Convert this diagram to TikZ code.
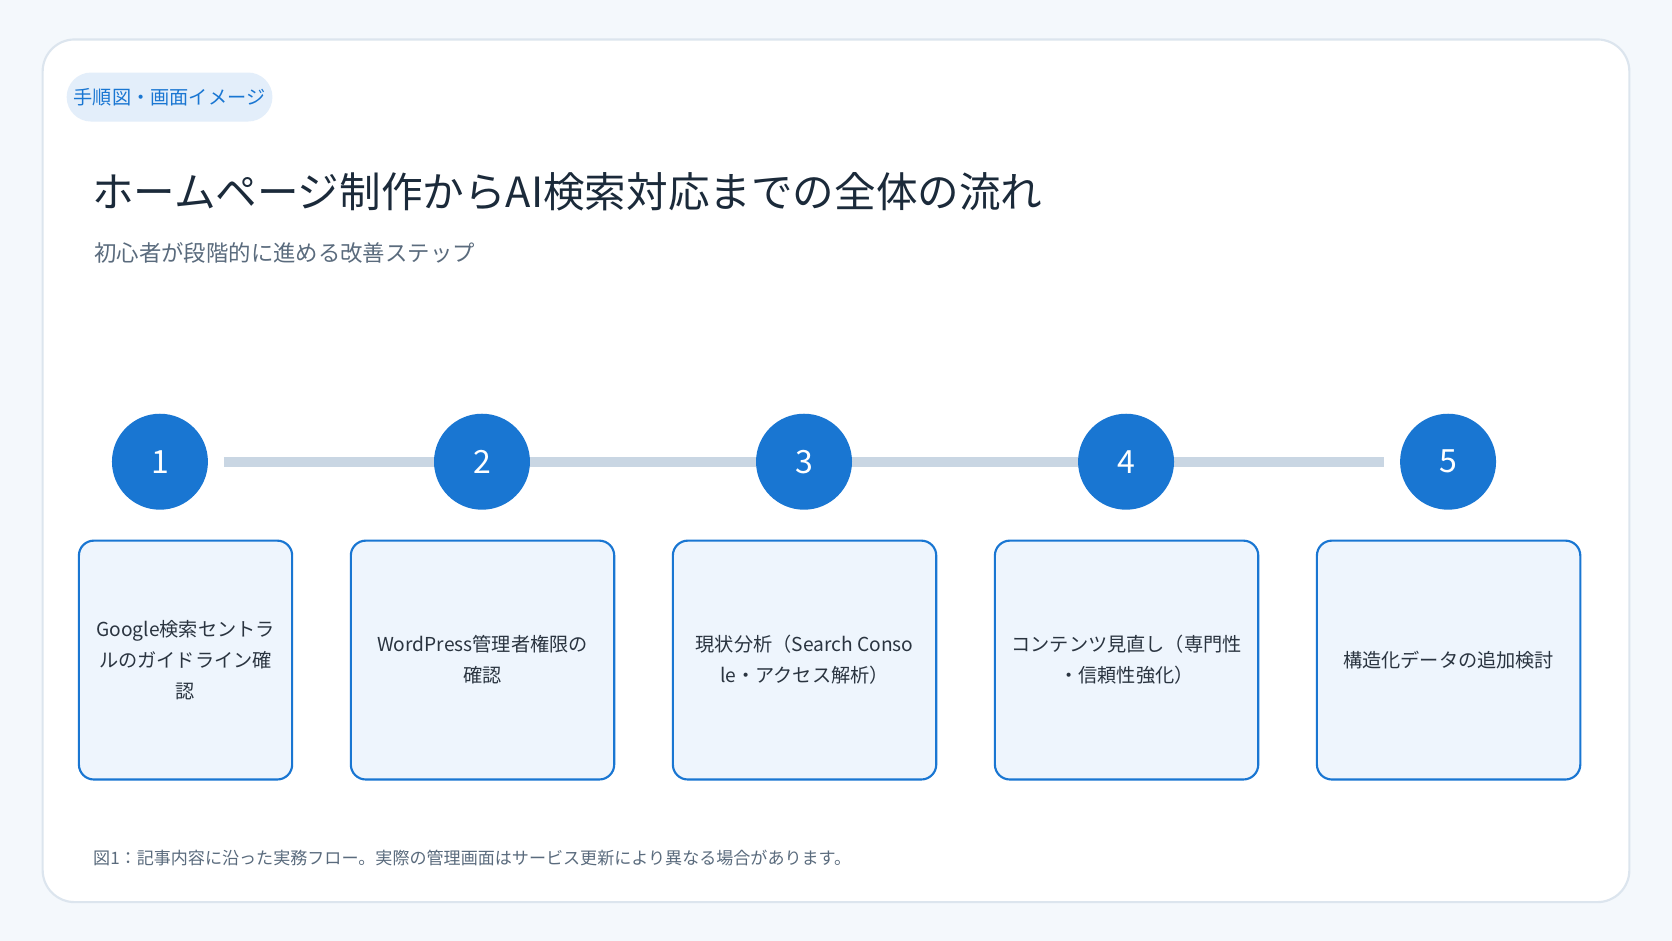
\documentclass[tikz,border=0pt]{standalone}
\usepackage{fontspec}
\setmainfont{Noto Sans CJK JP}
\usetikzlibrary{positioning}
\definecolor{pagebg}{HTML}{F4F8FC}
\definecolor{cardline}{HTML}{DCE5EE}
\definecolor{tagbg}{HTML}{E3EEFA}
\definecolor{stepblue}{HTML}{1976D2}
\definecolor{boxbg}{HTML}{EEF5FD}
\definecolor{railgray}{HTML}{C9D6E3}
\definecolor{titlecol}{HTML}{1B2A3A}
\definecolor{subcol}{HTML}{5A6B7D}
\definecolor{textcol}{HTML}{2A3440}
\tikzset{
  stepnum/.style={circle, fill=stepblue, minimum size=45pt, inner sep=0pt, text=white, font=\fontsize{15}{15}\selectfont},
  stepbox/.style={draw=stepblue, line width=1pt, fill=boxbg, rounded corners=7pt, align=center, text=textcol, font=\fontsize{9}{14.5}\selectfont, minimum height=112pt, inner sep=4pt},
}
\begin{document}
\begin{tikzpicture}[x=0.5pt,y=-0.5pt]
  \useasboundingbox[fill=pagebg] (0,0) rectangle (1568,882);
  \draw[cardline, line width=1pt, fill=white, rounded corners=15pt] (40,37) rectangle (1528,846); % カード
  \node[fill=tagbg, rounded corners=11.5pt, minimum width=91pt, minimum height=23pt, text=stepblue, font=\fontsize{9}{9}\selectfont] (tag) at (159,91) {手順図・画面イメージ};
  \node[anchor=west, text=titlecol, font=\fontsize{19.5}{19.5}\selectfont, inner sep=0pt] (title) at (86,180) {ホームページ制作からAI検索対応までの全体の流れ};
  \node[anchor=west, text=subcol, font=\fontsize{10.5}{10.5}\selectfont, inner sep=0pt] (subtitle) at (88,237) {初心者が段階的に進める改善ステップ};

  \coordinate (railL) at (210,433);
  \coordinate (railR) at (1298,433);
  \draw[railgray, line width=4.5pt] (railL) -- (railR);

  \foreach \i/\x in {1/150,2/452,3/754,4/1056,5/1358}{
    \node[stepnum] (n\i) at (\x,433) {\i};
  }
  \node[stepbox, minimum width=100pt] (b1) at (174,619) {Google検索セントラ\\ルのガイドライン確\\認};
  \node[stepbox, minimum width=123.5pt] (b2) at (452.5,619) {WordPress管理者権限の\\確認};
  \node[stepbox, minimum width=123.5pt] (b3) at (754.5,619) {現状分析（Search Conso\\le・アクセス解析）};
  \node[stepbox, minimum width=123.5pt] (b4) at (1056.5,619) {コンテンツ見直し（専門性\\・信頼性強化）};
  \node[stepbox, minimum width=123.5pt] (b5) at (1358.5,619) {構造化データの追加検討};

  \node[anchor=west, text=subcol, font=\fontsize{8}{8}\selectfont, inner sep=0pt] (caption) at (87,805) {図1：記事内容に沿った実務フロー。実際の管理画面はサービス更新により異なる場合があります。};
\end{tikzpicture}
\end{document}
